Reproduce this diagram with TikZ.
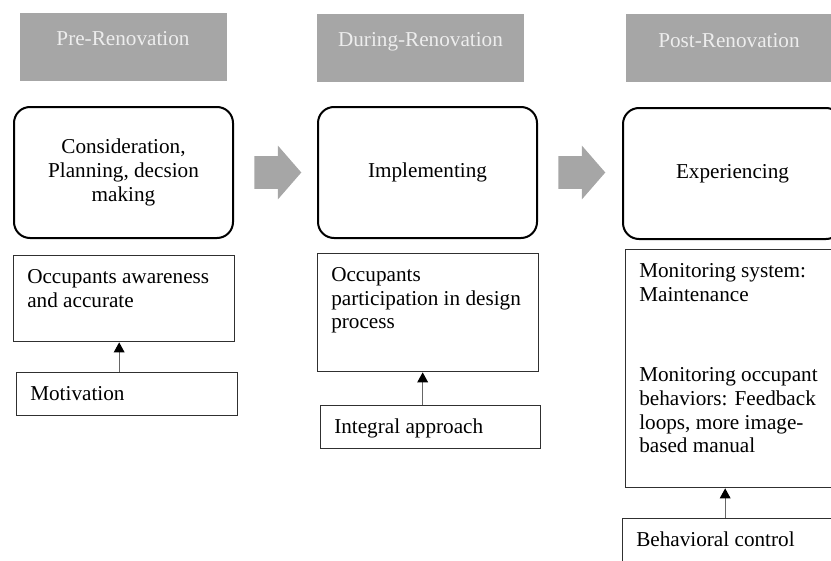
\documentclass[tikz,border=0pt]{standalone}
\usepackage{fontspec}
\setmainfont{Liberation Serif}
\usepackage{xcolor}
\usepackage{tikz}
\usetikzlibrary{shapes.arrows, arrows.meta, positioning}
\definecolor{phasegray}{HTML}{A6A6A6}
\definecolor{boxline}{HTML}{303030}
\newcommand{\bodyfont}{\fontsize{15.9pt}{17.8pt}\selectfont}

\begin{document}
\begin{tikzpicture}[x=0.75pt, y=-0.75pt,
  phase/.style={fill=phasegray, text=white!93!black, minimum width=155.25pt, minimum height=51pt, inner sep=0pt, text height=10.5pt, text depth=12.5pt, font=\bodyfont},
  stage/.style={draw, rounded corners=12pt, line width=1.5pt, minimum width=164.25pt, minimum height=98.25pt, align=center, font=\bodyfont},
  blockarrow/.style={single arrow, fill=phasegray, minimum height=35.25pt, inner xsep=0pt, inner ysep=12pt, single arrow head extend=7.9pt, single arrow tip angle=98},
  note/.style={draw=boxline, line width=1pt, anchor=north west, minimum width=165.75pt, inner sep=0pt},
  notetext/.style={align=left, inner sep=0pt, font=\bodyfont},
  feed/.style={draw=black!60, line width=0.8pt, -{Triangle[width=8pt, length=7.5pt, black]}},
]
\useasboundingbox (0,0) rectangle (831,560);

% Phase headers
\node[phase] (prePhase) at (123,47) {Pre-Renovation};
\node[phase] (durPhase) at (420.5,48) {During-Renovation};
\node[phase] (postPhase) at (729,48.5) {Post-Renovation};

% Stages and the arrows between them
\node[stage] (preStage) at (123.5,172.5) {Consideration,\\Planning, decsion\\making};
\node[stage] (durStage) at (427.5,172.5) {Implementing};
\node[stage] (postStage) at (732.5,173.5) {Experiencing};
\node[blockarrow, right=15pt of preStage] (arrPreDur) {};
\node[blockarrow, right=15pt of durStage] (arrDurPost) {};

% Pre-renovation notes
\node[note, minimum height=64.5pt] (preNote) at (13,255) {};
\node[notetext, below right=10.5pt and 10.5pt of preNote.north west] (preNoteTxt) {Occupants awareness\\and accurate};
\node[note, minimum height=32.25pt] (preMot) at (16,372) {};
\node[notetext, below right=10.5pt and 10.5pt of preMot.north west] (preMotTxt) {Motivation};
\draw[feed] ([xshift=-6pt]preMot.north) -- ([xshift=-6pt]preMot.north |- preNote.south);

% During-renovation notes
\node[note, minimum height=88.5pt] (durNote) at (317,253) {};
\node[notetext, below right=10.5pt and 10.5pt of durNote.north west] (durNoteTxt) {Occupants\\participation in design\\process};
\node[note, minimum height=32.25pt, minimum width=165pt] (durInt) at (320,405) {};
\node[notetext, below right=10.5pt and 10.5pt of durInt.north west] (durIntTxt) {Integral approach};
\draw[feed] ([xshift=-6pt]durInt.north) -- ([xshift=-6pt]durInt.north |- durNote.south);

% Post-renovation notes
\node[note, minimum height=178.5pt] (postNote) at (625,249) {};
\node[notetext, below right=10.5pt and 10.5pt of postNote.north west] (postNoteTxt) {Monitoring system:\\Maintenance\\[42.75pt]Monitoring occupant\\behaviors: Feedback\\loops, more image-\\based manual};
\node[note, minimum height=33.75pt] (postBeh) at (622,518) {};
\node[notetext, below right=10.5pt and 10.5pt of postBeh.north west] (postBehTxt) {Behavioral control};
\draw[feed] ([xshift=-6pt]postBeh.north) -- ([xshift=-6pt]postBeh.north |- postNote.south);
\end{tikzpicture}
\end{document}
